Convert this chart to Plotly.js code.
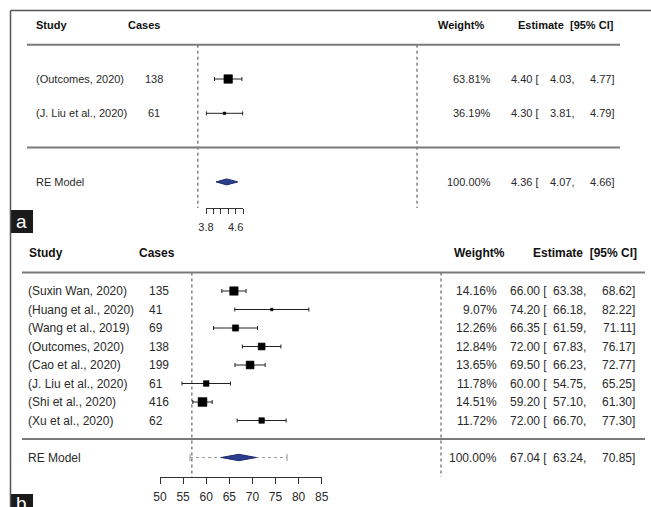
<!DOCTYPE html>
<html><head><meta charset="utf-8">
<script src="https://cdn.plot.ly/plotly-3.0.1.min.js"></script>
<style>html,body{margin:0;padding:0;background:#fff;} #chart{width:651px;height:507px;}</style>
</head><body><div id="chart"></div>
<script>
// ---------- Panel a data ----------
const studiesA = ["(Outcomes, 2020)", "(J. Liu et al., 2020)"];
const casesA = [138, 61];
const weightsA = [63.81, 36.19];
const estA = [4.40, 4.30];
const lowA = [4.03, 3.81];
const highA = [4.77, 4.79];
const reLabelA = "RE Model";
const reWeightA = 100.00;
const reEstA = 4.36, reLowA = 4.07, reHighA = 4.66;
const tickValsA = [3.8, 4.0, 4.2, 4.4, 4.6, 4.8];
const tickTextA = ["3.8", "", "", "", "4.6", ""];
const refA = 3.58;

// ---------- Panel b data ----------
const studiesB = ["(Suxin Wan, 2020)", "(Huang et al., 2020)", "(Wang et al., 2019)", "(Outcomes, 2020)",
                  "(Cao et al., 2020)", "(J. Liu et al., 2020)", "(Shi et al., 2020)", "(Xu et al., 2020)"];
const casesB = [135, 41, 69, 138, 199, 61, 416, 62];
const weightsB = [14.16, 9.07, 12.26, 12.84, 13.65, 11.78, 14.51, 11.72];
const estB = [66.00, 74.20, 66.35, 72.00, 69.50, 60.00, 59.20, 72.00];
const lowB = [63.38, 66.18, 61.59, 67.83, 66.23, 54.75, 57.10, 66.70];
const highB = [68.62, 82.22, 71.11, 76.17, 72.77, 65.25, 61.30, 77.30];
const reLabelB = "RE Model";
const reWeightB = 100.00;
const reEstB = 67.04, reLowB = 63.24, reHighB = 70.85;
const predLowB = 56.5, predHighB = 77.5;
const tickValsB = [50, 55, 60, 65, 70, 75, 80, 85];
const refB = 56.9;

// ---------- geometry (layout) ----------
const W = 651, H = 507;
const px = v => v / W;
const py = v => 1 - v / H;
const FONT = "Liberation Sans, Arial, sans-serif";
const TXT = "#2a2a2a", HEAD = "#111";

const aX0 = 206, aScale = 37, aV0 = 3.8;
const aY1 = 79, aRow = 34.3;
const bX0 = 160, bScale = 161.7 / 35, bV0 = 50;
const bY1 = 291, bRow = 18.5;
const vA = p => aV0 + (p - aX0) / aScale;
const kA = p => (p - aY1) / aRow + 1;
const vB = p => bV0 + (p - bX0) / bScale;
const kB = p => (p - bY1) / bRow + 1;
function vToPxA(v) { return aX0 + (v - aV0) * aScale; }
function vToPxB(v) { return bX0 + (v - bV0) * bScale; }

const rowsA = studiesA.map((_, i) => i + 1);
const rowsB = studiesB.map((_, i) => i + 1);
const reRowA = 4, lineA = [0, 3], headA = -0.57, axisRowA = kA(208);
const reRowB = 10, lineB = [0, 9], headB = -1.03, axisRowB = kB(477);

function sizes(w, smin, smax) {
  const mn = Math.min(...w), mx = Math.max(...w);
  return w.map(v => smin + (v - mn) / (mx - mn) * (smax - smin));
}

const traces = [];
traces.push({x: [refA, refA], y: [lineA[0], axisRowA], xaxis: 'x', yaxis: 'y', mode: 'lines',
  line: {color: '#444', width: 1, dash: 'dot'}, hoverinfo: 'skip', showlegend: false});
traces.push({x: [refB, refB], y: [lineB[0], axisRowB], xaxis: 'x2', yaxis: 'y2', mode: 'lines',
  line: {color: '#444', width: 1, dash: 'dot'}, hoverinfo: 'skip', showlegend: false});

traces.push({x: estA, y: rowsA, xaxis: 'x', yaxis: 'y', mode: 'markers', type: 'scatter',
  marker: {symbol: 'square', size: sizes(weightsA, 2.5, 8.5), color: '#000', opacity: 1, line: {width: 0.6, color: '#000'}},
  error_x: {type: 'data', symmetric: false, array: highA.map((h, i) => h - estA[i]),
    arrayminus: lowA.map((l, i) => estA[i] - l), color: '#222', thickness: 1, width: 2},
  hoverinfo: 'skip', showlegend: false});
traces.push({x: estB, y: rowsB, xaxis: 'x2', yaxis: 'y2', mode: 'markers', type: 'scatter',
  marker: {symbol: 'square', size: sizes(weightsB, 2.5, 8.8), color: '#000', opacity: 1, line: {width: 0.6, color: '#000'}},
  error_x: {type: 'data', symmetric: false, array: highB.map((h, i) => h - estB[i]),
    arrayminus: lowB.map((l, i) => estB[i] - l), color: '#222', thickness: 1, width: 2},
  hoverinfo: 'skip', showlegend: false});

traces.push({x: [predLowB, predHighB], y: [reRowB, reRowB], xaxis: 'x2', yaxis: 'y2', mode: 'lines+markers',
  line: {color: '#9a9a9a', width: 1, dash: 'dot'},
  marker: {symbol: 'line-ns', size: 5, line: {color: '#9a9a9a', width: 1}},
  hoverinfo: 'skip', showlegend: false});

const hA = 3 / aRow, hB = 3.2 / bRow;
traces.push({x: [reLowA, reEstA, reHighA, reEstA, reLowA], y: [reRowA, reRowA - hA, reRowA, reRowA + hA, reRowA],
  xaxis: 'x', yaxis: 'y', mode: 'lines', fill: 'toself', fillcolor: '#2d3d90',
  line: {color: '#1f2b6c', width: 1}, hoverinfo: 'skip', showlegend: false});
traces.push({x: [reLowB, reEstB, reHighB, reEstB, reLowB], y: [reRowB, reRowB - hB, reRowB, reRowB + hB, reRowB],
  xaxis: 'x2', yaxis: 'y2', mode: 'lines', fill: 'toself', fillcolor: '#2d3d90',
  line: {color: '#1f2b6c', width: 1}, hoverinfo: 'skip', showlegend: false});

traces.push({x: [tickValsA[0]], y: [null], xaxis: 'x3', yaxis: 'y', mode: 'markers', hoverinfo: 'skip', showlegend: false});
traces.push({x: [tickValsB[0]], y: [null], xaxis: 'x4', yaxis: 'y2', mode: 'markers', hoverinfo: 'skip', showlegend: false});

// ---------- annotations ----------
const ann = [];
function T(text, xpx, yref, y, anchor, size, color) {
  ann.push({text: text, xref: 'paper', x: px(xpx), yref: yref, y: y, xanchor: anchor, yanchor: 'middle',
    showarrow: false, borderpad: 0, font: {family: FONT, size: size, color: color}});
}
const fa = 11;
T('<b>Study</b>', 35, 'y', headA, 'left', fa, HEAD);
T('<b>Cases</b>', 127, 'y', headA, 'left', fa, HEAD);
T('<b>Weight%</b>', 437, 'y', headA, 'left', fa, HEAD);
T('<b>Estimate\u00a0 [95% CI]</b>', 517, 'y', headA, 'left', fa, HEAD);
studiesA.forEach((s, i) => {
  const r = rowsA[i];
  T(s, 35, 'y', r, 'left', fa, TXT);
  T(String(casesA[i]), 154, 'y', r, 'center', fa, TXT);
  T(weightsA[i].toFixed(2) + '%', 492, 'y', r, 'right', fa, TXT);
  T(estA[i].toFixed(2) + ' [', 540, 'y', r, 'right', fa, TXT);
  T(lowA[i].toFixed(2) + ',', 575, 'y', r, 'right', fa, TXT);
  T(highA[i].toFixed(2) + ']', 615, 'y', r, 'right', fa, TXT);
});
T(reLabelA, 35, 'y', reRowA, 'left', fa, TXT);
T(reWeightA.toFixed(2) + '%', 492, 'y', reRowA, 'right', fa, TXT);
T(reEstA.toFixed(2) + ' [', 540, 'y', reRowA, 'right', fa, TXT);
T(reLowA.toFixed(2) + ',', 575, 'y', reRowA, 'right', fa, TXT);
T(reHighA.toFixed(2) + ']', 615, 'y', reRowA, 'right', fa, TXT);

const fb = 12;
T('<b>Study</b>', 28, 'y2', headB, 'left', fb, HEAD);
T('<b>Cases</b>', 137.5, 'y2', headB, 'left', fb, HEAD);
T('<b>Weight%</b>', 453, 'y2', headB, 'left', fb, HEAD);
T('<b>Estimate\u00a0 [95% CI]</b>', 637.5, 'y2', headB, 'right', fb, HEAD);
studiesB.forEach((s, i) => {
  const r = rowsB[i];
  T(s, 26.5, 'y2', r, 'left', fb, TXT);
  T(String(casesB[i]), 147.5, 'y2', r, 'left', fb, TXT);
  T(weightsB[i].toFixed(2) + '%', 497.5, 'y2', r, 'right', fb, TXT);
  T(estB[i].toFixed(2) + ' [', 547.5, 'y2', r, 'right', fb, TXT);
  T(lowB[i].toFixed(2) + ',', 587, 'y2', r, 'right', fb, TXT);
  T(highB[i].toFixed(2) + ']', 636, 'y2', r, 'right', fb, TXT);
});
T(reLabelB, 26.5, 'y2', reRowB, 'left', fb, TXT);
T(reWeightB.toFixed(2) + '%', 497.5, 'y2', reRowB, 'right', fb, TXT);
T(reEstB.toFixed(2) + ' [', 547.5, 'y2', reRowB, 'right', fb, TXT);
T(reLowB.toFixed(2) + ',', 587, 'y2', reRowB, 'right', fb, TXT);
T(reHighB.toFixed(2) + ']', 636, 'y2', reRowB, 'right', fb, TXT);

ann.push({text: 'a', xref: 'paper', yref: 'paper', x: px(21.5), y: py(221.5), xanchor: 'center', yanchor: 'middle',
  showarrow: false, font: {family: FONT, size: 19, color: '#fff'}});
ann.push({text: 'b', xref: 'paper', yref: 'paper', x: px(21.5), y: py(491), xanchor: 'center', yanchor: 'top',
  showarrow: false, font: {family: FONT, size: 19, color: '#fff'}});

// ---------- shapes ----------
const shapes = [
  {type: 'line', xref: 'paper', yref: 'paper', x0: px(10.5), x1: 1, y0: py(10.5), y1: py(10.5), line: {color: '#555', width: 1.5}},
  {type: 'line', xref: 'paper', yref: 'paper', x0: px(10.5), x1: px(10.5), y0: py(10.5), y1: 0, line: {color: '#555', width: 1.5}},
  {type: 'rect', xref: 'paper', yref: 'paper', x0: px(10), x1: px(33), y0: py(210), y1: py(233), fillcolor: '#1a1a1a', line: {width: 0}, layer: 'below'},
  {type: 'rect', xref: 'paper', yref: 'paper', x0: px(10), x1: px(33), y0: py(494), y1: 0, fillcolor: '#1a1a1a', line: {width: 0}, layer: 'below'},
  {type: 'line', xref: 'paper', yref: 'y', x0: px(417), x1: px(417), y0: lineA[0], y1: axisRowA, line: {color: '#444', width: 1, dash: 'dot'}},
  {type: 'line', xref: 'paper', yref: 'y2', x0: px(441), x1: px(441), y0: lineB[0], y1: axisRowB, line: {color: '#444', width: 1, dash: 'dot'}}
];
lineA.forEach(r => shapes.push({type: 'line', xref: 'paper', yref: 'y', x0: px(27), x1: px(620), y0: r, y1: r, line: {color: '#7a7a7a', width: 2}}));
lineB.forEach(r => shapes.push({type: 'line', xref: 'paper', yref: 'y2', x0: px(22), x1: px(645), y0: r, y1: r, line: {color: '#7a7a7a', width: 2}}));

const hidden = {visible: false, fixedrange: true, showgrid: false, zeroline: false};
const layout = {
  width: W, height: H, margin: {l: 0, r: 0, t: 0, b: 0}, autosize: false,
  paper_bgcolor: '#fff', plot_bgcolor: 'rgba(0,0,0,0)', showlegend: false, hovermode: false,
  xaxis: Object.assign({}, hidden, {domain: [0, 1], range: [vA(0), vA(W)], anchor: 'y'}),
  yaxis: Object.assign({}, hidden, {domain: [0, 1], range: [kA(H), kA(0)], anchor: 'x'}),
  xaxis2: Object.assign({}, hidden, {domain: [0, 1], range: [vB(0), vB(W)], anchor: 'y2'}),
  yaxis2: Object.assign({}, hidden, {domain: [0, 1], range: [kB(H), kB(0)], anchor: 'x2'}),
  xaxis3: {domain: [px(vToPxA(tickValsA[0])), px(vToPxA(tickValsA[tickValsA.length - 1]))],
    range: [tickValsA[0], tickValsA[tickValsA.length - 1]], anchor: 'free', position: py(208), side: 'bottom',
    showline: true, linecolor: '#333', linewidth: 1, ticks: 'outside', ticklen: 5, tickwidth: 1, tickcolor: '#333',
    tickmode: 'array', tickvals: tickValsA, ticktext: tickTextA, showgrid: false, zeroline: false, fixedrange: true,
    tickfont: {family: FONT, size: 11, color: TXT}, ticklabelstandoff: 4},
  xaxis4: {domain: [px(vToPxB(tickValsB[0])), px(vToPxB(tickValsB[tickValsB.length - 1]))],
    range: [tickValsB[0], tickValsB[tickValsB.length - 1]], anchor: 'free', position: py(477), side: 'bottom',
    showline: true, linecolor: '#333', linewidth: 1, ticks: 'outside', ticklen: 6, tickwidth: 1, tickcolor: '#333',
    tickmode: 'array', tickvals: tickValsB, ticktext: tickValsB.map(String), showgrid: false, zeroline: false, fixedrange: true,
    tickfont: {family: FONT, size: 12, color: TXT}, ticklabelstandoff: 3},
  shapes: shapes, annotations: ann
};

Plotly.newPlot('chart', traces, layout, {staticPlot: true, displayModeBar: false});
</script></body></html>
